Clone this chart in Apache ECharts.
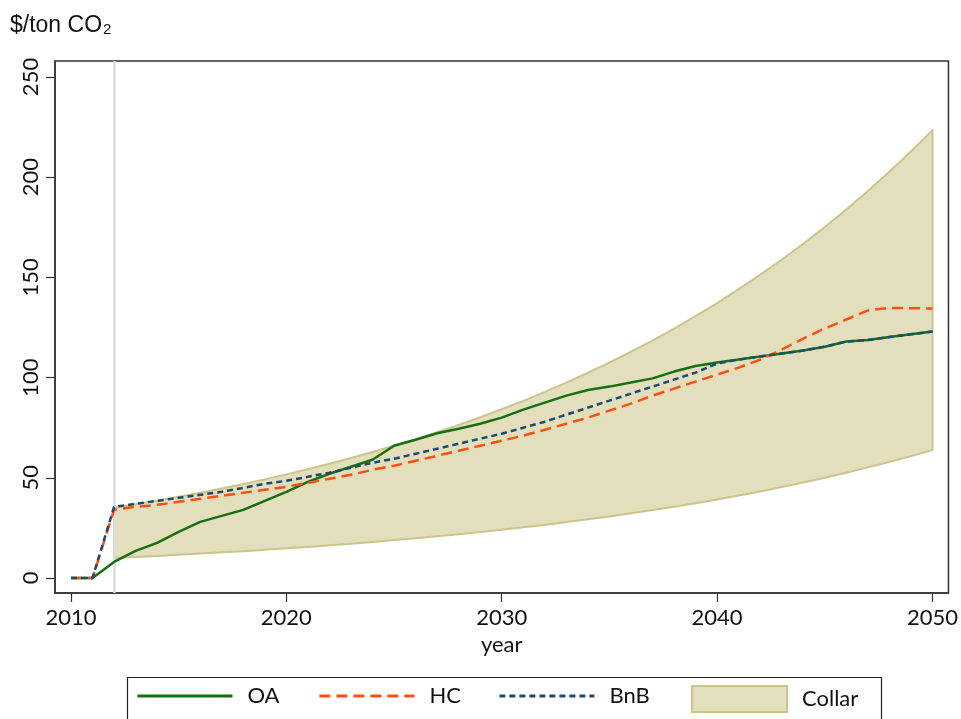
<!DOCTYPE html>
<html>
<head>
<meta charset="utf-8">
<script src="https://cdn.jsdelivr.net/npm/echarts@6/dist/echarts.min.js"></script>
<style>html,body{margin:0;padding:0;background:#fff;}#c{width:961px;height:719px;}</style>
</head>
<body>
<div id="c"></div>
<script>
const years = [];
for (let y = 2010; y <= 2050; y++) years.push(y);
const collarYears = years.slice(2);
const xTicks = [2010, 2020, 2030, 2040, 2050];
const yTicks = [0, 50, 100, 150, 200, 250];

const oa = [0,0,8,13.5,17.5,23,28,31,34,38.5,43,
  48,52,55.5,59,66,69,72.2,74.5,77,80,
  84,87.5,91,93.8,95.5,97.5,99.6,103,105.8,107.5,
  109,110.5,112,113.5,115.4,118,118.8,120.2,121.6,123];
const hc = [0,0,34,35.5,36.5,38,39.5,41,42.5,44,45.5,
  47.5,49.5,51.5,54,56,58.5,61,63.5,66,68.5,
  71,74,77,80,83.5,87,91,94.5,98,101.5,
  105,109,114,119.5,124.5,129,133.5,134.8,134.6,134.5];
const bnb = [0,0,35.5,37,38.5,40,41.5,43,45,47,48.5,
  50.5,52.5,55,57.5,59.5,62,64.5,67,69.5,72,
  75,78,81.5,85,88.5,92,95.5,99,102.5,107,
  109,110.5,112,113.5,115.4,118,118.8,120.2,121.6,123];
const collarUpper = [35,36.8,38.6,40.5,42.5,44.7,46.9,49.2,51.7,54.3,
  57.0,59.9,62.9,66.0,69.3,72.8,76.4,80.2,84.2,88.4,
  92.9,97.5,102.4,107.5,112.9,118.5,124.4,130.7,137.2,144.1,
  151.3,158.8,166.8,175.1,183.9,193.1,202.7,212.8,223.5];
const collarLower = [10,10.5,11.0,11.6,12.2,12.8,13.4,14.1,14.8,15.5,
  16.3,17.1,18.0,18.9,19.8,20.8,21.8,22.9,24.1,25.3,
  26.5,27.9,29.3,30.7,32.3,33.9,35.6,37.3,39.2,41.2,
  43.2,45.4,47.7,50.0,52.5,55.2,57.9,60.8,63.9];
const policyYear = 2012;

const C_OA = '#16700f', C_HC = '#ff4f12', C_BNB = '#1d4a72';
const C_FILL = '#e3dfbd', C_EDGE = '#cbc48c';
const tickFont = 'Lato, "Liberation Sans", Arial, sans-serif';
const titleFont = '"Liberation Sans", Arial, sans-serif';

const chart = echarts.init(document.getElementById('c'), null, {renderer: 'canvas'});

const legendBase = {
  top: 685, itemWidth: 95, itemHeight: 26, padding: 0,
  textStyle: {fontFamily: tickFont, fontSize: 22, color: '#111', padding: [0, 0, 0, 10]},
  selectedMode: false
};
const lineLegend = {itemStyle: {opacity: 0, borderWidth: 0}, lineStyle: {width: 2.8}};

chart.setOption({
  animation: false,
  backgroundColor: '#fff',
  title: {
    text: '{a|$/ton CO}{s|2}',
    left: 5, top: 2, padding: [5, 5, 5, 5],
    textStyle: {
      fontWeight: 'normal',
      rich: {
        a: {fontFamily: titleFont, fontSize: 23, fontWeight: 'normal', color: '#111', lineHeight: 30, verticalAlign: 'bottom'},
        s: {fontFamily: titleFont, fontSize: 15, fontWeight: 'normal', color: '#111', lineHeight: 24, verticalAlign: 'bottom', padding: [0,0,0,1]}
      }
    }
  },
  grid: {left: 55, right: 11, top: 61, bottom: 126, show: true, borderColor: '#333', borderWidth: 1.5, backgroundColor: 'transparent'},
  xAxis: {
    type: 'value', min: 2009.258, max: 2050.742,
    name: 'year', nameLocation: 'middle', nameGap: 36,
    nameTextStyle: {fontFamily: tickFont, fontSize: 22, color: '#111'},
    axisLine: {show: true, onZero: false, lineStyle: {color: '#333', width: 1.5}},
    axisTick: {show: true, length: 9, customValues: xTicks, lineStyle: {color: '#333', width: 1.2}},
    axisLabel: {customValues: xTicks, margin: 14, fontFamily: tickFont, fontSize: 22, color: '#111', formatter: v => String(v)},
    splitLine: {show: false}
  },
  yAxis: {
    type: 'value', min: -7.49, max: 257.98,
    axisLine: {show: true, onZero: false, lineStyle: {color: '#333', width: 1.5}},
    axisTick: {show: true, length: 9, customValues: yTicks, lineStyle: {color: '#333', width: 1.2}},
    axisLabel: {customValues: yTicks, rotate: 90, margin: 13, fontFamily: tickFont, fontSize: 22, color: '#111'},
    splitLine: {show: false}
  },
  legend: [
    Object.assign({}, legendBase, lineLegend, {left: 136, data: ['OA']}),
    Object.assign({}, legendBase, lineLegend, {left: 318, data: ['HC']}),
    Object.assign({}, legendBase, lineLegend, {left: 498, data: ['BnB']}),
    Object.assign({}, legendBase, {left: 691, data: [{name: 'Collar', icon: 'rect'}]})
  ],
  graphic: [{
    type: 'rect', left: 125, top: 675, silent: true,
    shape: {width: 754, height: 70},
    style: {fill: 'none', stroke: '#222', lineWidth: 1.2}
  }],
  series: [
    {
      type: 'line', name: 'policy', data: [], silent: true, z: 1,
      markLine: {
        symbol: 'none', silent: true, label: {show: false},
        lineStyle: {color: '#dcdcdc', width: 2.5, type: 'solid'},
        data: [{xAxis: policyYear}]
      }
    },
    {
      type: 'custom', name: 'Collar', z: 2,
      itemStyle: {color: C_FILL, borderColor: C_EDGE, borderWidth: 2},
      data: collarYears.map((y, i) => [y, collarLower[i], collarUpper[i]]),
      renderItem: function (params, api) {
        if (params.dataIndex !== 0) return null;
        const pts = [];
        for (let i = 0; i < collarYears.length; i++) pts.push(api.coord([collarYears[i], collarUpper[i]]));
        for (let i = collarYears.length - 1; i >= 0; i--) pts.push(api.coord([collarYears[i], collarLower[i]]));
        return {
          type: 'polygon',
          shape: {points: pts},
          style: {fill: C_FILL, stroke: C_EDGE, lineWidth: 2, lineJoin: 'round'}
        };
      }
    },
    {
      type: 'line', name: 'OA', z: 5, showSymbol: false, symbol: 'none',
      data: years.map((y, i) => [y, oa[i]]),
      itemStyle: {color: C_OA},
      lineStyle: {color: C_OA, width: 2.5}
    },
    {
      type: 'line', name: 'HC', z: 6, showSymbol: false, symbol: 'none',
      data: years.map((y, i) => [y, hc[i]]),
      itemStyle: {color: C_HC},
      lineStyle: {color: C_HC, width: 2.5, type: [11, 6]}
    },
    {
      type: 'line', name: 'BnB', z: 7, showSymbol: false, symbol: 'none',
      data: years.map((y, i) => [y, bnb[i]]),
      itemStyle: {color: C_BNB},
      lineStyle: {color: C_BNB, width: 2.5, type: [6, 4]}
    }
  ]
});
</script>
</body>
</html>
